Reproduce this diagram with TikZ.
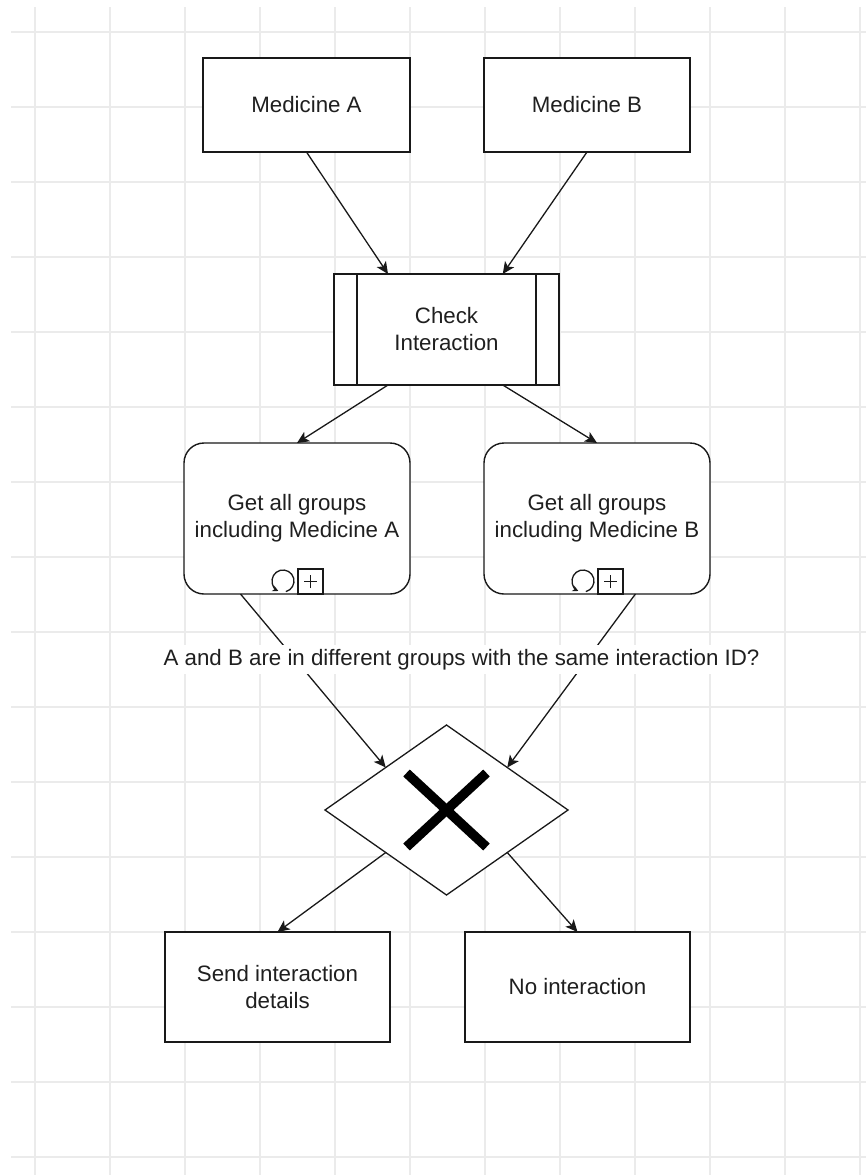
\documentclass[tikz,border=0pt]{standalone}
\usepackage{fontspec}
\setmainfont{Liberation Sans}
\usetikzlibrary{shapes.geometric,arrows.meta,calc}
\begin{document}
\begin{tikzpicture}[x=1pt,y=-1pt,
  gridline/.style={draw=black!8,line width=1.1pt},
  boxshape/.style={draw=black!90,line width=1.4pt,fill=white,inner sep=0pt,outer sep=0pt,
    font=\fontsize{22.3}{27}\selectfont,align=center,text=black!88},
  flow/.style={draw=black!90,line width=1.3pt,-{Stealth[length=12pt,width=11pt,inset=3pt]}},
  plain/.style={draw=black!90,line width=1.3pt},
  marker/.style={draw=black!90,line width=1.3pt},
  lbl/.style={fill=white,inner xsep=2pt,inner ysep=4pt,font=\fontsize{22.3}{27}\selectfont,text=black!88}]
\useasboundingbox (0,0) rectangle (866,1175);
\fill[white] (0,0) rectangle (866,1175);
% grid
\foreach \gx in {35,110,...,860} \draw[gridline] (\gx,7) -- (\gx,1175);
\foreach \gy in {32,107,...,1160} \draw[gridline] (11,\gy) -- (866,\gy);
% nodes
\node[boxshape,minimum width=207pt,minimum height=94pt] (medA) at (306.5,105) {Medicine A};
\node[boxshape,minimum width=206pt,minimum height=94pt] (medB) at (587,105) {Medicine B};
\node[boxshape,minimum width=225pt,minimum height=111pt] (chk) at (446.5,329.5) {Check\\Interaction};
\draw[plain] ($(chk.north west)+(23,0)$) -- ($(chk.south west)+(23,0)$);
\draw[plain] ($(chk.north east)+(-23,0)$) -- ($(chk.south east)+(-23,0)$);
\node[boxshape,rounded corners=20pt,minimum width=226pt,minimum height=151pt] (gA) at (297,518.5) {Get all groups\\including Medicine A};
\node[boxshape,rounded corners=20pt,minimum width=226pt,minimum height=151pt] (gB) at (597,518.5) {Get all groups\\including Medicine B};
\foreach \g in {gA,gB}{
  \begin{scope}[shift={($(\g.south)+(-14,-13)$)},x=1pt,y=1pt]
    \draw[marker,-{Stealth[length=6pt,width=6pt]}] (-75:11) arc[start angle=-75,end angle=245,radius=11];
  \end{scope}
  \draw[marker] ($(\g.south)+(1,0)$) rectangle ($(\g.south)+(26,-25)$);
  \draw[marker] ($(\g.south)+(7,-12.5)$) -- ($(\g.south)+(20,-12.5)$);
  \draw[marker] ($(\g.south)+(13.5,-6)$) -- ($(\g.south)+(13.5,-19)$);
}
\node[draw=black!90,line width=1.3pt,fill=white,shape=diamond,inner sep=0pt,outer sep=0pt,minimum width=243pt,minimum height=170pt] (dia) at (446.5,810) {};
\draw[black,line width=9.5pt] ($(dia.center)+(-40,-37)$) -- ($(dia.center)+(40,37)$);
\draw[black,line width=9.5pt] ($(dia.center)+(40,-37)$) -- ($(dia.center)+(-40,37)$);
\node[boxshape,minimum width=225pt,minimum height=110pt] (send) at (277.5,987) {Send interaction\\details};
\node[boxshape,minimum width=225pt,minimum height=110pt] (noi) at (577.5,987) {No interaction};
% connectors
\draw[flow] (medA.south) -- ($(chk.north west)!0.24!(chk.north east)$);
\draw[flow] (medB.south) -- ($(chk.north west)!0.75!(chk.north east)$);
\draw[flow] ($(chk.south west)!0.24!(chk.south east)$) -- (gA.north);
\draw[flow] ($(chk.south west)!0.75!(chk.south east)$) -- (gB.north);
\draw[flow] ($(gA.south west)!0.25!(gA.south east)$) -- ($(dia.north)!0.5!(dia.west)$);
\draw[flow] ($(gB.south west)!0.67!(gB.south east)$) -- ($(dia.north)!0.5!(dia.east)$);
\draw[flow] ($(dia.south)!0.5!(dia.west)$) -- (send.north);
\draw[flow] ($(dia.south)!0.5!(dia.east)$) -- (noi.north);
\node[lbl,anchor=base] (cond) at (461.5,665) {A and B are in different groups with the same interaction ID?};
\end{tikzpicture}
\end{document}
